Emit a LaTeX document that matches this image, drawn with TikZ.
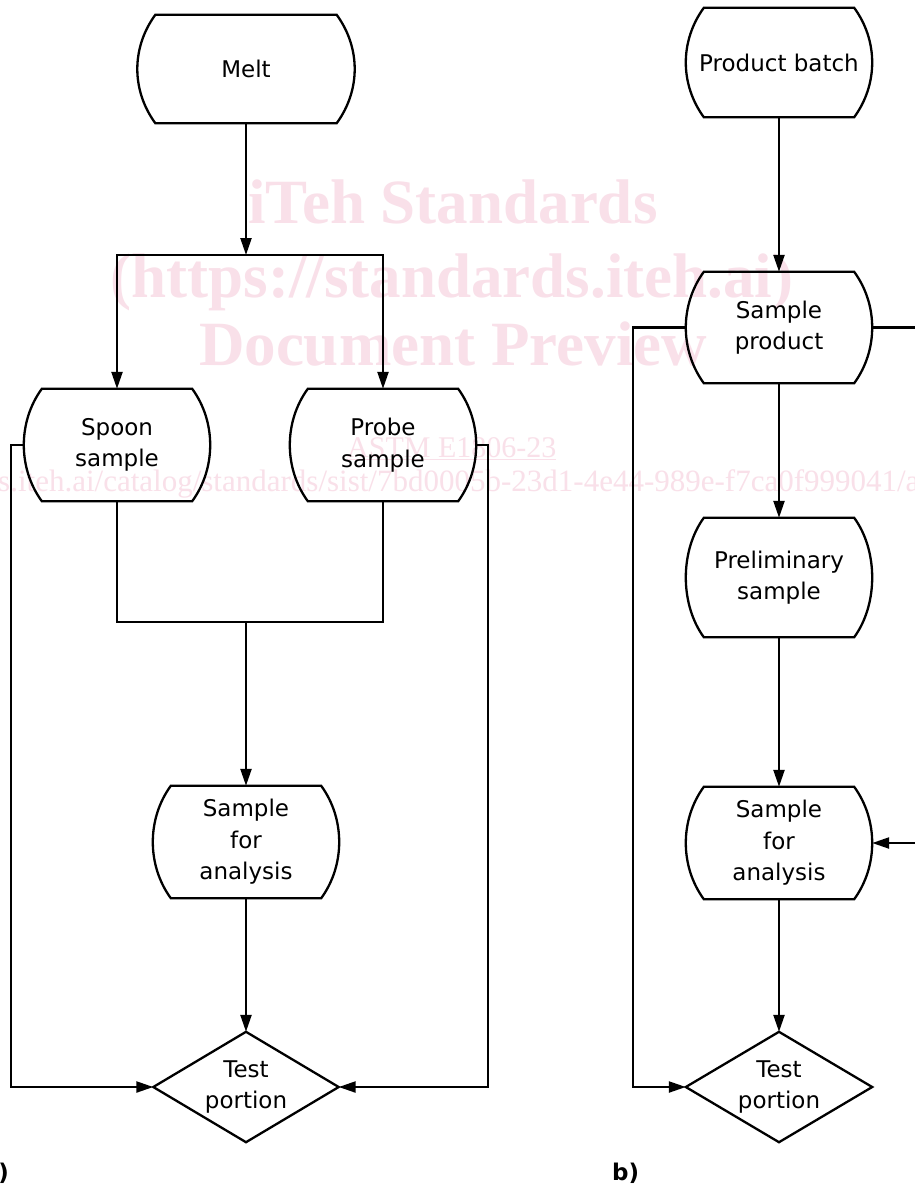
\documentclass[tikz,border=0pt]{standalone}
\usepackage{fontspec}
\setmainfont{DejaVu Sans}
\newfontfamily\wmfont{Liberation Serif}
\usetikzlibrary{arrows.meta}
\definecolor{wm}{RGB}{249,224,233}
\begin{document}
\begin{tikzpicture}[x=1pt,y=-1pt,
  box/.style={rectangle, draw=none, inner sep=0pt, minimum width=186pt, minimum height=112pt, align=center, font=\fontsize{23}{31.5}\selectfont},
  ln/.style={line width=2.3pt, line join=miter},
  arr/.style={ln, -{Triangle[length=17pt,width=11pt]}},
  wmbig/.style={text=wm, font=\wmfont\bfseries\fontsize{63}{63}\selectfont, inner sep=0pt, anchor=base},
  wmsmall/.style={text=wm, font=\wmfont\fontsize{30}{30}\selectfont, inner sep=0pt},
  tag/.style={font=\bfseries\fontsize{23}{23}\selectfont, inner sep=0pt}
]
\fill[white] (0,0) rectangle (915,1187);
\useasboundingbox (0,0) rectangle (915,1187);
% watermark
\node[wmbig] (wm1) at (453,223) {iTeh Standards};
\node[wmbig] (wm2) at (452,297) {(https://standards.iteh.ai)};
\node[wmbig] (wm3) at (453,365) {Document Preview};
\node[wmsmall, anchor=base west] (wm4) at (347,457) {\underline{ASTM E1806-23}};
\node[wmsmall, anchor=base west, font=\wmfont\fontsize{31}{31}\selectfont] (wm5) at (-2,491) {\llap{https://standard}s.iteh.ai/catalog/standards/sist/7bd0005b-23d1-4e44-989e-f7ca0f999041/astm-e1806-23};
% nodes
\node[box, minimum width=217pt, minimum height=108pt] (melt) at (246,69) {Melt};
\node[box] (spoon) at (117,445) {Spoon\\sample};
\node[box] (probe) at (383,445) {Probe\\sample};
\node[box] (sfa1) at (246,842) {Sample\\for\\analysis};
\node[box, minimum width=185pt, minimum height=110pt] (test1) at (246,1087) {Test\\portion};
\node[box, minimum height=109pt] (pb) at (779,62.5) {Product batch};
\node[box, minimum height=111pt] (sp) at (779,327.5) {Sample\\product};
\node[box, minimum height=119pt] (pre) at (779,577.5) {Preliminary\\sample};
\node[box] (sfa2) at (779,843) {Sample\\for\\analysis};
\node[box, minimum height=110pt] (test2) at (779,1087) {Test\\portion};
% outlines
\foreach \n in {melt,spoon,probe,sfa1,pb,sp,pre,sfa2}{
  \draw[ln] ([xshift=18pt]\n.north west) -- ([xshift=-18pt]\n.north east)
    .. controls +(24pt,-33pt) and +(24pt,33pt) .. ([xshift=-18pt]\n.south east)
    -- ([xshift=18pt]\n.south west)
    .. controls +(-24pt,33pt) and +(-24pt,-33pt) .. ([xshift=18pt]\n.north west) -- cycle;
}
\foreach \n in {test1,test2}{
  \draw[ln] (\n.north) -- (\n.east) -- (\n.south) -- (\n.west) -- cycle;
}
% helper coordinates
\coordinate (split1) at (246,255);
\coordinate (join1) at (246,622);
\coordinate (lA) at (11,445);
\coordinate (rA) at (488,445);
\coordinate (lB) at (633,330);
\coordinate (rB) at (921,330);
% connectors
\draw[arr] (melt.south) -- (split1);
\draw[arr] (split1) -| (spoon.north);
\draw[arr] (split1) -| (probe.north);
\draw[arr] (spoon.west) -- (lA) |- (test1.west);
\draw[arr] (probe.east) -- (rA) |- (test1.east);
\draw[ln] (spoon.south) |- (join1) -| (probe.south);
\draw[arr] (join1) -- (sfa1.north);
\draw[arr] (sfa1.south) -- (test1.north);
\draw[arr] (pb.south) -- (sp.north);
\draw[arr] (sp.south) -- (pre.north);
\draw[arr] (pre.south) -- (sfa2.north);
\draw[arr] (sfa2.south) -- (test2.north);
\draw[arr] (sp.west) -- (sp.west -| lB) |- (test2.west);
\draw[arr] (sp.east) -- (sp.east -| rB) |- (sfa2.east);
% tags
\node[tag, anchor=base east] (la) at (9,1180) {a)};
\node[tag, anchor=base west] (lb) at (612,1180) {b)};
\end{tikzpicture}
\end{document}
